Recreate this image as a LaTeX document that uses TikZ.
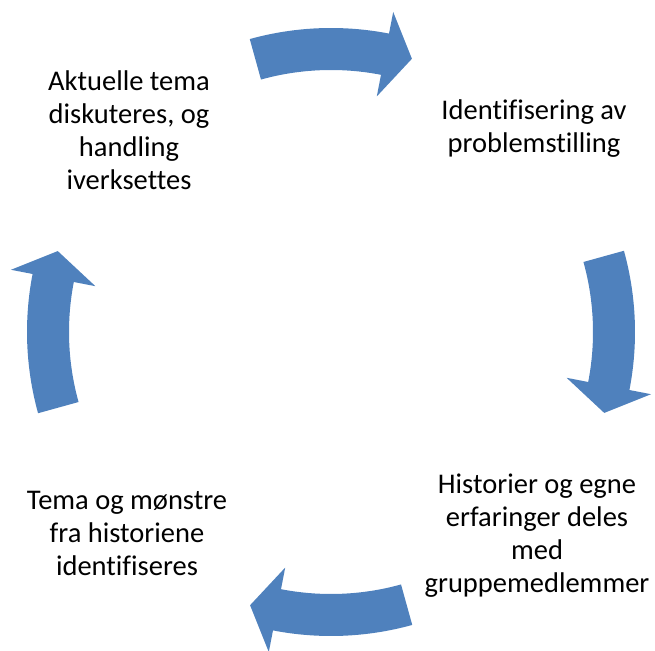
\documentclass[tikz,border=0pt]{standalone}
\usepackage{fontspec}
\setmainfont[Ligatures=NoCommon]{Carlito}
\usepackage{tikz}
\definecolor{cycblue}{HTML}{4F81BD}
\tikzset{
  steptext/.style={align=center,font=\fontsize{28.5}{33}\selectfont,inner sep=0pt},
  cycarrow/.style={fill=cycblue,draw=none}
}
% one bent arrow of the ring, turned by #1 degrees round the centre
\newcommand{\ringarrow}[1]{%
  \begin{scope}[shift={(331,318)},rotate=#1]
    \fill[cycarrow] (105.5:304) arc (105.5:79:304) -- (79:326) -- (73.5:285)
      -- (79:240) -- (79:262) arc (79:105.5:262) -- cycle;
  \end{scope}
}

\begin{document}
\begin{tikzpicture}[x=1pt,y=1pt]
\useasboundingbox (0,0) rectangle (655,650);
\ringarrow{0} \ringarrow{-90} \ringarrow{-180} \ringarrow{-270}
\node[steptext] (akt) at (129,520) {Aktuelle tema\\diskuteres, og\\handling\\iverksettes};
\node[steptext] (ident) at (534,521) {Identifisering av\\problemstilling};
\node[steptext] (hist) at (537,114) {Historier og egne\\erfaringer deles\\med\\gruppemedlemmer};
\node[steptext] (tema) at (127,117) {Tema og mønstre\\fra historiene\\identifiseres};
\end{tikzpicture}
\end{document}
